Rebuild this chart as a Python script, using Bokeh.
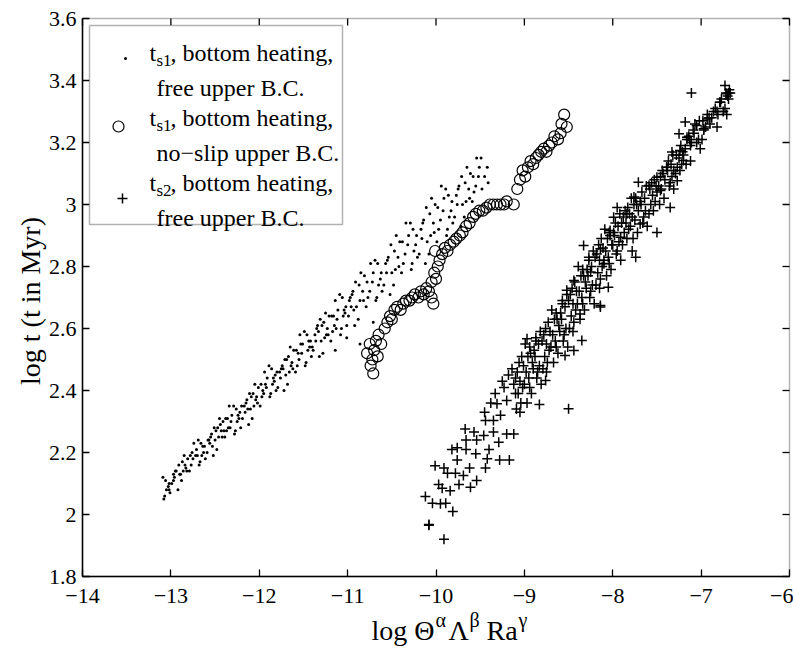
import math
from bokeh.plotting import figure
from bokeh.models import Label, BoxAnnotation, FixedTicker, Range1d
from bokeh.embed import file_html
from bokeh.resources import INLINE

# ---------------- data ----------------
x_ticks = [-14, -13, -12, -11, -10, -9, -8, -7, -6]
x_tick_labels = ["\u221214", "\u221213", "\u221212", "\u221211", "\u221210",
                 "\u22129", "\u22128", "\u22127", "\u22126"]
y_ticks = [1.8, 2, 2.2, 2.4, 2.6, 2.8, 3, 3.2, 3.4, 3.6]
y_tick_labels = ["1.8", "2", "2.2", "2.4", "2.6", "2.8", "3", "3.2", "3.4", "3.6"]

# t_s1, bottom heating, free upper B.C.  (dots)
ts1_free = [
    (-13.08, 2.05), (-13.02, 2.10), (-13.05, 2.08), (-13.09, 2.12), (-13.01, 2.07), (-13.06, 2.11), (-13.03, 2.09), (-13.07, 2.06),
    (-12.94, 2.14), (-12.99, 2.10), (-12.91, 2.16), (-12.96, 2.12), (-12.97, 2.13), (-12.92, 2.08), (-12.95, 2.14),
    (-12.86, 2.14), (-12.81, 2.18), (-12.88, 2.11), (-12.83, 2.15), (-12.85, 2.19), (-12.90, 2.13), (-12.82, 2.14), (-12.87, 2.17),
    (-12.72, 2.19), (-12.77, 2.16), (-12.74, 2.23), (-12.79, 2.14), (-12.71, 2.21), (-12.75, 2.18), (-12.78, 2.19),
    (-12.68, 2.16), (-12.62, 2.22), (-12.65, 2.19), (-12.69, 2.24), (-12.61, 2.18), (-12.66, 2.23), (-12.63, 2.20), (-12.67, 2.17),
    (-12.54, 2.26), (-12.59, 2.20), (-12.51, 2.28), (-12.56, 2.23), (-12.57, 2.24), (-12.52, 2.19), (-12.55, 2.25),
    (-12.46, 2.25), (-12.41, 2.30), (-12.48, 2.21), (-12.43, 2.27), (-12.45, 2.31), (-12.50, 2.24), (-12.42, 2.25), (-12.47, 2.28),
    (-12.32, 2.30), (-12.37, 2.27), (-12.34, 2.35), (-12.39, 2.25), (-12.31, 2.32), (-12.35, 2.28), (-12.38, 2.31),
    (-12.28, 2.26), (-12.22, 2.33), (-12.25, 2.30), (-12.29, 2.35), (-12.21, 2.28), (-12.26, 2.34), (-12.23, 2.31), (-12.27, 2.27),
    (-12.14, 2.37), (-12.19, 2.31), (-12.11, 2.39), (-12.16, 2.33), (-12.17, 2.35), (-12.12, 2.29), (-12.15, 2.36),
    (-12.06, 2.35), (-12.01, 2.41), (-12.08, 2.31), (-12.03, 2.38), (-12.05, 2.42), (-12.10, 2.34), (-12.02, 2.36), (-12.07, 2.39),
    (-11.92, 2.41), (-11.97, 2.38), (-11.94, 2.46), (-11.99, 2.35), (-11.91, 2.44), (-11.95, 2.39), (-11.98, 2.42),
    (-11.88, 2.38), (-11.82, 2.45), (-11.85, 2.42), (-11.89, 2.48), (-11.81, 2.40), (-11.86, 2.47), (-11.83, 2.43), (-11.87, 2.39),
    (-11.74, 2.48), (-11.79, 2.41), (-11.71, 2.50), (-11.76, 2.44), (-11.77, 2.46), (-11.72, 2.40), (-11.75, 2.47),
    (-11.66, 2.46), (-11.61, 2.53), (-11.68, 2.42), (-11.63, 2.49), (-11.65, 2.54), (-11.70, 2.45), (-11.62, 2.47), (-11.67, 2.51),
    (-11.52, 2.52), (-11.57, 2.48), (-11.54, 2.58), (-11.59, 2.46), (-11.51, 2.55), (-11.55, 2.50), (-11.58, 2.53),
    (-11.48, 2.48), (-11.42, 2.56), (-11.45, 2.53), (-11.49, 2.59), (-11.41, 2.51), (-11.46, 2.58), (-11.43, 2.54), (-11.47, 2.49),
    (-11.34, 2.61), (-11.39, 2.53), (-11.31, 2.63), (-11.36, 2.56), (-11.37, 2.58), (-11.32, 2.51), (-11.35, 2.60),
    (-11.26, 2.57), (-11.21, 2.64), (-11.28, 2.52), (-11.23, 2.60), (-11.25, 2.65), (-11.30, 2.56), (-11.22, 2.58), (-11.27, 2.62),
    (-11.12, 2.63), (-11.17, 2.59), (-11.14, 2.69), (-11.19, 2.56), (-11.11, 2.66), (-11.15, 2.61), (-11.18, 2.64),
    (-11.08, 2.58), (-11.02, 2.67), (-11.05, 2.64), (-11.09, 2.71), (-11.01, 2.61), (-11.06, 2.70), (-11.03, 2.65), (-11.07, 2.60),
    (-10.94, 2.72), (-10.99, 2.64), (-10.91, 2.75), (-10.96, 2.67), (-10.97, 2.70), (-10.92, 2.61), (-10.95, 2.71),
    (-10.86, 2.69), (-10.81, 2.77), (-10.88, 2.63), (-10.83, 2.72), (-10.85, 2.78), (-10.90, 2.67), (-10.82, 2.69), (-10.87, 2.74),
    (-10.72, 2.75), (-10.77, 2.70), (-10.74, 2.81), (-10.79, 2.67), (-10.71, 2.78), (-10.75, 2.72), (-10.78, 2.75),
    (-10.68, 2.69), (-10.62, 2.78), (-10.65, 2.74), (-10.69, 2.82), (-10.61, 2.72), (-10.66, 2.81), (-10.63, 2.76), (-10.67, 2.70),
    (-10.54, 2.83), (-10.59, 2.74), (-10.51, 2.87), (-10.56, 2.78), (-10.57, 2.81), (-10.52, 2.71), (-10.55, 2.82),
    (-10.46, 2.79), (-10.41, 2.88), (-10.48, 2.74), (-10.43, 2.83), (-10.45, 2.90), (-10.50, 2.78), (-10.42, 2.80), (-10.47, 2.85),
    (-10.32, 2.87), (-10.37, 2.81), (-10.34, 2.94), (-10.39, 2.78), (-10.31, 2.90), (-10.35, 2.84), (-10.38, 2.88),
    (-10.28, 2.79), (-10.22, 2.90), (-10.25, 2.85), (-10.29, 2.94), (-10.21, 2.83), (-10.26, 2.92), (-10.23, 2.87), (-10.27, 2.81),
    (-10.14, 2.95), (-10.19, 2.84), (-10.11, 2.99), (-10.16, 2.89), (-10.17, 2.92), (-10.12, 2.81), (-10.15, 2.94),
    (-10.06, 2.90), (-10.01, 3.00), (-10.08, 2.84), (-10.03, 2.94), (-10.05, 3.02), (-10.10, 2.88), (-10.02, 2.91), (-10.07, 2.97),
    (-9.92, 2.98), (-9.97, 2.92), (-9.94, 3.06), (-9.99, 2.88), (-9.91, 3.02), (-9.95, 2.95), (-9.98, 2.99),
    (-9.88, 2.90), (-9.82, 3.01), (-9.85, 2.96), (-9.89, 3.05), (-9.81, 2.94), (-9.86, 3.03), (-9.83, 2.98), (-9.87, 2.92),
    (-9.74, 3.06), (-9.79, 2.96), (-9.71, 3.09), (-9.76, 3.00), (-9.77, 3.03), (-9.72, 2.93), (-9.75, 3.05),
    (-9.66, 3.01), (-9.61, 3.10), (-9.68, 2.96), (-9.63, 3.05), (-9.65, 3.12), (-9.70, 3.00), (-9.62, 3.02), (-9.67, 3.07),
    (-9.52, 3.09), (-9.57, 3.04), (-9.54, 3.15), (-9.59, 3.01), (-9.51, 3.12), (-9.55, 3.06), (-9.58, 3.09),
    (-9.48, 3.05), (-9.42, 3.12), (-9.45, 3.09), (-9.49, 3.15), (-9.41, 3.07),
    (-13.02, 2.08), (-12.97, 2.11), (-12.89, 2.13), (-12.84, 2.16), (-12.76, 2.20), (-12.70, 2.19),
    (-12.64, 2.22), (-12.58, 2.24), (-12.53, 2.22), (-12.49, 2.27), (-12.44, 2.29), (-12.40, 2.27),
    (-12.36, 2.31), (-12.33, 2.28), (-12.24, 2.32), (-12.20, 2.35), (-12.13, 2.34), (-12.09, 2.38),
    (-12.04, 2.37), (-11.96, 2.40), (-11.93, 2.42), (-11.84, 2.44), (-11.80, 2.46), (-11.73, 2.47),
    (-11.69, 2.50), (-11.64, 2.48), (-11.56, 2.52), (-11.53, 2.55), (-11.44, 2.56), (-11.40, 2.54),
    (-11.33, 2.59), (-11.29, 2.61), (-11.24, 2.58), (-11.16, 2.64), (-11.13, 2.60), (-11.04, 2.66),
    (-10.98, 2.69), (-10.93, 2.66),
    (-11.14, 2.53), (-11.01, 2.57), (-10.86, 2.55), (-10.71, 2.62),
]

# t_s1, bottom heating, no-slip upper B.C.  (open circles)
ts1_noslip = [
    (-10.78, 2.52), (-10.75, 2.55), (-10.72, 2.50), (-10.70, 2.53), (-10.68, 2.56),
    (-10.74, 2.48), (-10.66, 2.51), (-10.71, 2.455), (-10.62, 2.55), (-10.65, 2.58),
    (-10.58, 2.60), (-10.55, 2.62), (-10.52, 2.64), (-10.50, 2.63), (-10.47, 2.66),
    (-10.44, 2.67), (-10.40, 2.66), (-10.37, 2.68), (-10.34, 2.69), (-10.30, 2.69),
    (-10.27, 2.70), (-10.24, 2.71), (-10.20, 2.70), (-10.17, 2.72), (-10.14, 2.71),
    (-10.11, 2.73), (-10.08, 2.72), (-10.05, 2.70), (-10.03, 2.68), (-10.05, 2.75),
    (-10.02, 2.78), (-10.00, 2.76), (-9.98, 2.80), (-9.96, 2.82), (-10.01, 2.85),
    (-9.93, 2.84), (-9.90, 2.86), (-9.87, 2.85), (-9.84, 2.87), (-9.80, 2.88),
    (-9.77, 2.89), (-9.73, 2.90), (-9.70, 2.91), (-9.66, 2.93), (-9.62, 2.94),
    (-9.58, 2.96), (-9.55, 2.97), (-9.51, 2.98), (-9.47, 2.98), (-9.43, 2.99),
    (-9.39, 3.00), (-9.35, 3.00), (-9.31, 3.00), (-9.27, 3.00), (-9.23, 3.00),
    (-9.20, 3.01), (-9.12, 3.00), (-9.08, 3.05), (-9.05, 3.08), (-9.02, 3.11),
    (-8.99, 3.09), (-8.96, 3.12), (-8.93, 3.14), (-8.90, 3.13), (-8.87, 3.15),
    (-8.84, 3.16), (-8.81, 3.17), (-8.78, 3.18), (-8.75, 3.17), (-8.72, 3.19),
    (-8.69, 3.20), (-8.66, 3.22), (-8.62, 3.21), (-8.58, 3.26), (-8.55, 3.29),
    (-8.52, 3.25), (-8.59, 3.23),
]

# t_s2, bottom heating, free upper B.C.  (plus signs)
ts2_free = [
    # lower-left end
    (-10.08, 1.965), (-10.08, 1.968), (-9.91, 1.92), (-10.12, 2.058), (-10.04, 2.036), (-9.95, 2.035),
    (-9.89, 2.036), (-9.81, 2.01), (-9.97, 2.097), (-9.93, 2.085), (-9.84, 2.077), (-9.74, 2.097),
    (-9.61, 2.088), (-9.54, 2.11), (-10.01, 2.157), (-9.91, 2.15), (-9.87, 2.133), (-9.78, 2.133),
    (-9.69, 2.126), (-9.62, 2.15), (-9.44, 2.15), (-9.76, 2.176), (-9.82, 2.21), (-9.76, 2.215),
    (-9.66, 2.21), (-9.66, 2.24), (-9.67, 2.276), (-9.57, 2.266), (-9.54, 2.24), (-9.55, 2.196),
    (-9.42, 2.18), (-9.28, 2.176), (-9.17, 2.176), (-9.40, 2.21), (-9.29, 2.233), (-9.46, 2.255),
    (-9.35, 2.266), (-9.44, 2.303), (-9.35, 2.303), (-9.27, 2.32), (-9.20, 2.26), (-9.12, 2.26),
    (-9.31, 2.357), (-9.20, 2.368), (-9.23, 2.41), (-9.12, 2.42), (-9.10, 2.39),
    (-9.45, 2.33), (-9.38, 2.36), (-9.33, 2.39), (-9.25, 2.43), (-9.18, 2.45), (-9.14, 2.47),
    # dense band
    (-9.09, 2.34), (-9.05, 2.43), (-9.01, 2.48), (-9.07, 2.39), (-9.03, 2.51), (-9.08, 2.46), (-9.04, 2.36), (-9.02, 2.41), (-9.06, 2.49), (-9.10, 2.44), (-9.05, 2.33),
    (-8.96, 2.51), (-8.92, 2.39), (-8.98, 2.46), (-8.94, 2.54), (-9.00, 2.42), (-8.91, 2.49), (-8.97, 2.36), (-8.93, 2.52), (-8.95, 2.44), (-8.99, 2.55), (-8.94, 2.41),
    (-8.83, 2.48), (-8.87, 2.56), (-8.81, 2.42), (-8.89, 2.53), (-8.85, 2.46), (-8.82, 2.59), (-8.88, 2.51), (-8.86, 2.44), (-8.84, 2.55), (-8.90, 2.47), (-8.87, 2.57),
    (-8.79, 2.47), (-8.75, 2.55), (-8.71, 2.59), (-8.77, 2.51), (-8.73, 2.62), (-8.78, 2.58), (-8.74, 2.49), (-8.72, 2.53), (-8.76, 2.60), (-8.80, 2.56), (-8.75, 2.46),
    (-8.66, 2.63), (-8.62, 2.52), (-8.68, 2.58), (-8.64, 2.65), (-8.70, 2.54), (-8.61, 2.61), (-8.67, 2.49), (-8.63, 2.63), (-8.65, 2.56), (-8.69, 2.66), (-8.64, 2.54),
    (-8.53, 2.60), (-8.57, 2.68), (-8.51, 2.54), (-8.59, 2.65), (-8.55, 2.58), (-8.52, 2.71), (-8.58, 2.63), (-8.56, 2.56), (-8.54, 2.67), (-8.60, 2.59), (-8.57, 2.69),
    (-8.49, 2.60), (-8.45, 2.68), (-8.41, 2.72), (-8.47, 2.64), (-8.43, 2.75), (-8.48, 2.71), (-8.44, 2.62), (-8.42, 2.66), (-8.46, 2.73), (-8.50, 2.69), (-8.45, 2.59),
    (-8.36, 2.77), (-8.32, 2.66), (-8.38, 2.72), (-8.34, 2.79), (-8.40, 2.68), (-8.31, 2.75), (-8.37, 2.63), (-8.33, 2.77), (-8.35, 2.70), (-8.39, 2.80), (-8.34, 2.68),
    (-8.23, 2.74), (-8.27, 2.82), (-8.21, 2.68), (-8.29, 2.79), (-8.25, 2.72), (-8.22, 2.85), (-8.28, 2.77), (-8.26, 2.70), (-8.24, 2.80), (-8.30, 2.73), (-8.27, 2.83),
    (-8.19, 2.74), (-8.15, 2.82), (-8.11, 2.86), (-8.17, 2.78), (-8.13, 2.89), (-8.18, 2.84), (-8.14, 2.76), (-8.12, 2.80), (-8.16, 2.87), (-8.20, 2.83), (-8.15, 2.73),
    (-8.06, 2.89), (-8.02, 2.79), (-8.08, 2.85), (-8.04, 2.91), (-8.10, 2.82), (-8.01, 2.87), (-8.07, 2.77), (-8.03, 2.90), (-8.05, 2.83), (-8.09, 2.92), (-8.04, 2.81),
    (-7.93, 2.88), (-7.97, 2.94), (-7.91, 2.82), (-7.99, 2.91), (-7.95, 2.85), (-7.92, 2.97), (-7.98, 2.90), (-7.96, 2.84), (-7.94, 2.93), (-8.00, 2.87),
    (-7.89, 2.87), (-7.85, 2.94), (-7.81, 2.97), (-7.87, 2.91), (-7.83, 2.99), (-7.88, 2.96), (-7.84, 2.89), (-7.82, 2.92), (-7.86, 2.98), (-7.90, 2.94),
    (-7.76, 3.00), (-7.72, 2.91), (-7.78, 2.96), (-7.74, 3.02), (-7.80, 2.93), (-7.71, 2.98), (-7.77, 2.89), (-7.73, 3.00), (-7.75, 2.95), (-7.79, 3.02),
    (-7.63, 2.98), (-7.67, 3.04), (-7.61, 2.93), (-7.69, 3.01), (-7.65, 2.96), (-7.62, 3.06), (-7.68, 3.00), (-7.66, 2.94), (-7.64, 3.02),
    (-7.59, 2.97), (-7.55, 3.03), (-7.51, 3.06), (-7.57, 3.00), (-7.53, 3.08), (-7.58, 3.05), (-7.54, 2.98), (-7.52, 3.01), (-7.56, 3.07),
    (-7.46, 3.09), (-7.42, 3.02), (-7.48, 3.06), (-7.44, 3.11), (-7.50, 3.04), (-7.41, 3.08), (-7.47, 3.00), (-7.43, 3.10), (-7.45, 3.05),
    (-7.33, 3.09), (-7.37, 3.14), (-7.31, 3.05), (-7.39, 3.12), (-7.35, 3.07), (-7.32, 3.16), (-7.38, 3.11), (-7.36, 3.06), (-7.34, 3.13),
    (-7.29, 3.10), (-7.25, 3.15), (-7.21, 3.17), (-7.27, 3.12), (-7.23, 3.19), (-7.28, 3.16), (-7.24, 3.11), (-7.22, 3.13),
    (-7.16, 3.21), (-7.12, 3.14), (-7.18, 3.18), (-7.14, 3.22), (-7.20, 3.16), (-7.11, 3.20), (-7.17, 3.13), (-7.13, 3.21),
    (-7.03, 3.21), (-7.07, 3.26), (-7.01, 3.18), (-7.09, 3.24), (-7.05, 3.20), (-7.02, 3.27), (-7.08, 3.23),
    (-6.99, 3.21), (-6.95, 3.25), (-6.91, 3.28), (-6.97, 3.24), (-6.93, 3.29), (-6.98, 3.27),
    (-6.86, 3.30), (-6.82, 3.25), (-6.88, 3.28), (-6.84, 3.31), (-6.90, 3.26), (-6.81, 3.29),
    (-6.73, 3.31), (-6.77, 3.34), (-6.71, 3.29), (-6.79, 3.33), (-6.75, 3.30), (-6.72, 3.36),
    (-6.69, 3.36), (-6.68, 3.37), (-6.70, 3.35), (-6.67, 3.36), (-6.69, 3.34),
    # scattered points along the upper part
    (-6.73, 3.384), (-6.71, 3.357), (-6.78, 3.33), (-6.82, 3.30), (-6.93, 3.276), (-6.97, 3.244),
    (-7.05, 3.255), (-7.11, 3.36), (-7.18, 3.266), (-7.16, 3.217), (-7.12, 3.19), (-7.25, 3.228),
    (-7.24, 3.174), (-7.33, 3.169), (-7.20, 3.142), (-7.39, 3.12), (-7.31, 3.11), (-7.27, 3.077),
    (-7.50, 3.088), (-7.71, 3.072), (-7.59, 3.061), (-7.46, 3.045), (-7.35, 2.99), (-7.50, 2.91),
    (-7.76, 3.024), (-7.95, 2.99), (-7.84, 2.97), (-7.69, 2.937), (-7.99, 2.959), (-8.03, 2.916),
    (-7.91, 2.894), (-7.78, 2.85), (-7.74, 2.83), (-8.14, 2.857), (-8.33, 2.868), (-8.10, 2.809),
    (-8.25, 2.782), (-8.05, 2.733), (-8.44, 2.755), (-8.52, 2.723), (-8.14, 2.669), (-8.37, 2.647),
    (-8.50, 2.341), (-8.83, 2.355), (-8.97, 2.567), (-8.76, 2.432), (-8.54, 2.513), (-8.44, 2.529),
    (-8.35, 2.561), (-8.14, 2.674),
]

legend_texts = [
    ("t", "s1", ", bottom heating,", "free upper B.C."),
    ("t", "s1", ", bottom heating,", "no\u2212slip upper B.C."),
    ("t", "s2", ", bottom heating,", "free upper B.C."),
]
y_label_text = "log t  (t in Myr)"

# ---------------- layout (page pixels; the page has no margin) ----------------
XMIN, XMAX = -14, -6
YMIN, YMAX = 1.8, 3.6
W, H = 793, 648
PX_L, PX_R = 82, 789          # plot box on the page
PY_T, PY_B = 18, 576


def dx(px):
    return XMIN + (px - PX_L) * (XMAX - XMIN) / (PX_R - PX_L)


def dy(py):
    return YMAX - (py - PY_T) * (YMAX - YMIN) / (PY_B - PY_T)


FONT = "Liberation Serif"

# the frame covers the whole canvas; the axes sit at fixed locations on the plot box
p = figure(width=W, height=H, x_range=Range1d(dx(0), dx(W)), y_range=Range1d(dy(H), dy(0)),
           output_backend="svg", toolbar_location=None,
           min_border_left=0, min_border_right=0, min_border_top=0, min_border_bottom=0)
p.grid.visible = False
p.background_fill_color = "white"
p.border_fill_color = "white"
p.outline_line_color = None

xax = p.below[0]
yax = p.left[0]
xax.fixed_location = YMIN
yax.fixed_location = XMIN
xax.bounds = (XMIN, XMAX)
yax.bounds = (YMIN, YMAX)
for ax, ticks, labels in [(xax, x_ticks, x_tick_labels), (yax, y_ticks, y_tick_labels)]:
    ax.ticker = FixedTicker(ticks=ticks)
    ax.major_label_overrides = dict(zip(ticks, labels))
    ax.major_tick_in = 7
    ax.major_tick_out = 0
    ax.minor_tick_in = 0
    ax.minor_tick_out = 0
    ax.axis_line_width = 1.5
    ax.axis_line_color = "black"
    ax.major_tick_line_width = 1.3
    ax.major_tick_line_color = "black"
    ax.major_label_text_font = FONT
    ax.major_label_text_color = "black"
    ax.major_label_text_font_size = "22px"
    ax.axis_label = None
xax.major_label_standoff = 12
yax.major_label_standoff = 6

# plot box (top and right edges) with inward ticks at the same tick values
p.add_layout(BoxAnnotation(left=XMIN, right=XMAX, bottom=YMIN, top=YMAX, fill_alpha=0,
                           line_color="black", line_width=1.5, level="underlay"))
tick_dy = 7 * (YMAX - YMIN) / (PY_B - PY_T)
tick_dx = 7 * (XMAX - XMIN) / (PX_R - PX_L)
p.segment(x0=x_ticks, y0=[YMAX] * len(x_ticks), x1=x_ticks,
          y1=[YMAX - tick_dy] * len(x_ticks), line_color="black", line_width=1.3)
p.segment(x0=[XMAX] * len(y_ticks), y0=y_ticks, x1=[XMAX - tick_dx] * len(y_ticks),
          y1=y_ticks, line_color="black", line_width=1.3)

# ---------------- data marks ----------------
fx, fy = zip(*ts1_free)
nx, ny = zip(*ts1_noslip)
sx, sy = zip(*ts2_free)

p.scatter(list(fx), list(fy), marker="circle", size=3, fill_color="black", line_color=None)
p.scatter(list(nx), list(ny), marker="circle", size=11, fill_color=None,
          line_color="black", line_width=1.2)
p.scatter(list(sx), list(sy), marker="cross", size=10, line_color="black", line_width=1.5)

# ---------------- legend ----------------
p.add_layout(BoxAnnotation(left=dx(89), right=dx(342), top=dy(25), bottom=dy(224),
                           fill_color="white", fill_alpha=1.0, line_color="black",
                           line_width=1.5, level="annotation"))

p.scatter([dx(125)], [dy(58)], marker="circle", size=3, fill_color="black",
          line_color=None, level="overlay")
p.scatter([dx(118)], [dy(126)], marker="circle", size=11, fill_color=None,
          line_color="black", line_width=1.2, level="overlay")
p.scatter([dx(122)], [dy(198)], marker="cross", size=10, line_color="black",
          line_width=1.5, level="overlay")

LEG_FS = "24px"
SUB_FS = "17px"
base_lines = [52, 117, 182]
for (t, sub, rest, line2), b in zip(legend_texts, base_lines):
    for txt, xp, yp, fs in [(t, 149, b, LEG_FS), (sub, 156, b + 8, SUB_FS),
                            (rest, 170, b, LEG_FS), (line2, 156, b + 35, LEG_FS)]:
        p.add_layout(Label(x=dx(xp), y=dy(yp), text=txt, text_font=FONT,
                           text_font_size=fs, text_baseline="alphabetic",
                           text_align="left", text_color="black"))

# ---------------- axis titles ----------------
p.add_layout(Label(x=dx(30), y=dy((PY_T + PY_B) / 2), text=y_label_text, angle=math.pi / 2,
                   text_font=FONT, text_font_size="28px", text_align="center",
                   text_baseline="middle", text_color="black"))

XL_FS, XS_FS = "28px", "20px"
xb = 630
pieces = [("log \u0398", 371, 0, XL_FS), ("\u03b1", 435, 11, XS_FS),
          ("\u039b", 448, 0, XL_FS), ("\u03b2", 469, 11, XS_FS),
          ("Ra", 486, 0, XL_FS), ("\u03b3", 518, 11, XS_FS)]
for txt, xpx, up, fs in pieces:
    p.add_layout(Label(x=dx(xpx), y=dy(xb - up), text=txt, text_font=FONT, text_font_size=fs,
                       text_baseline="alphabetic", text_align="left", text_color="black"))

open("out.html", "w").write(file_html(p, INLINE))
